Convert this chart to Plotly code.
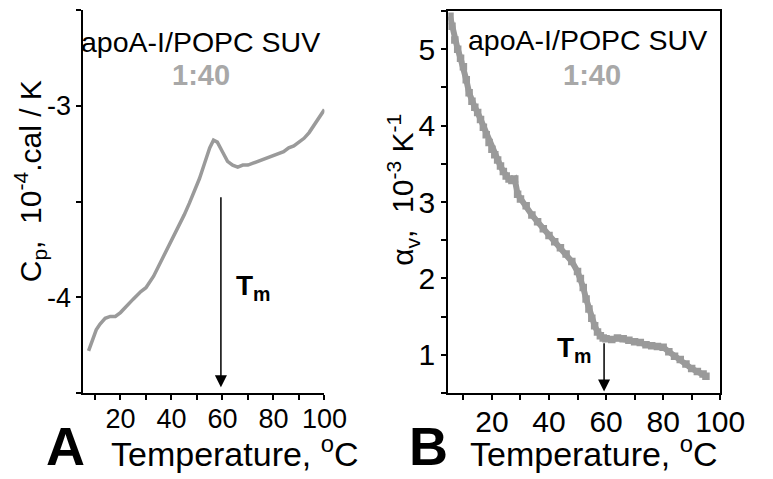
import plotly.graph_objects as go

# Panel A: heat capacity (DSC)
temp_a = [7.5, 9, 10.5, 12, 14, 16, 18, 20, 22, 25, 28, 30, 33, 36, 40, 43, 45, 47, 49, 51,
          53, 55, 56.5, 58, 60, 62, 64, 66, 68, 70, 72, 74, 76, 78, 80, 82, 84, 86, 88, 90,
          92, 94, 96, 98, 100]
cp_a = [-4.28, -4.22, -4.17, -4.14, -4.11, -4.10, -4.10, -4.08, -4.05, -4.01, -3.97, -3.95,
        -3.89, -3.81, -3.70, -3.63, -3.57, -3.51, -3.45, -3.38, -3.30, -3.22, -3.18, -3.19,
        -3.24, -3.29, -3.31, -3.32, -3.31, -3.31, -3.30, -3.29, -3.28, -3.27, -3.26, -3.25,
        -3.24, -3.22, -3.21, -3.19, -3.17, -3.14, -3.10, -3.06, -3.02]

# Panel B: thermal expansion coefficient (PPC)
temp_b = [5.3, 6, 7, 8, 9, 10, 11, 12, 13, 14, 15, 16, 17, 18, 19, 20, 21, 22, 23, 24, 25, 26,
          27, 28, 29, 30, 32, 34, 36, 38, 40, 42, 44, 46, 48, 50, 51, 52, 53, 54, 55, 56, 57,
          58, 59, 60, 62, 64, 66, 68, 70, 72, 74, 76, 78, 80, 82, 84, 86, 88, 90, 92, 94, 95]
alpha_b = [5.43, 5.30, 5.12, 5.00, 4.88, 4.77, 4.60, 4.43, 4.32, 4.24, 4.17, 4.08, 3.98, 3.88,
           3.78, 3.69, 3.62, 3.55, 3.47, 3.40, 3.34, 3.30, 3.28, 3.30, 3.10, 3.04, 2.95, 2.83,
           2.74, 2.65, 2.56, 2.48, 2.40, 2.32, 2.22, 2.09, 2.00, 1.88, 1.73, 1.60, 1.48, 1.38,
           1.30, 1.25, 1.22, 1.21, 1.20, 1.22, 1.21, 1.19, 1.17, 1.16, 1.13, 1.12, 1.11, 1.10,
           1.04, 0.98, 0.94, 0.88, 0.82, 0.78, 0.75, 0.72]

xticks = [20, 40, 60, 80, 100]
xtick_labels = ["20", "40", "60", "80", "100"]
yticks_a = [-4, -3]
ytick_labels_a = ["-4", "-3"]
yticks_b = [1, 2, 3, 4, 5]
ytick_labels_b = ["1", "2", "3", "4", "5"]

tm_a = 59.4
tm_b = 59.3

FONT = "Liberation Sans, Arial, sans-serif"
GREY = "#9a9a9a"
W, H = 773, 479
OFF = 8  # page body margin offset

def px_x(p):
    return (p - OFF) / W

def px_y(p):
    return 1 - (p - OFF) / H

fig = go.Figure()
fig.add_trace(go.Scatter(x=temp_a, y=cp_a, mode="lines", line=dict(color=GREY, width=3.5),
                         xaxis="x", yaxis="y", showlegend=False))
fig.add_trace(go.Scatter(x=temp_b, y=alpha_b, mode="lines+markers",
                         line=dict(color=GREY, width=6),
                         marker=dict(symbol="square", size=7.5, color=GREY),
                         xaxis="x2", yaxis="y2", showlegend=False))

def axis_common(size):
    return dict(showgrid=False, zeroline=False, linecolor="black", linewidth=2,
                ticks="outside", ticklen=5, tickwidth=2, tickcolor="black",
                tickfont=dict(family=FONT, size=size, color="black"), showline=True)

def minor(d):
    return dict(ticks="outside", ticklen=5, tickwidth=2, dtick=d, tick0=0, tickcolor="black")

fig.update_layout(
    width=W, height=H, margin=dict(l=0, r=0, t=0, b=0),
    paper_bgcolor="white", plot_bgcolor="white",
    xaxis=dict(domain=[px_x(86), px_x(335)], range=[5.5, 100], anchor="y",
               tickmode="array", tickvals=xticks, ticktext=xtick_labels,
               ticklabelstandoff=-4, minor=minor(10), **axis_common(27)),
    yaxis=dict(domain=[px_y(393), px_y(10)], range=[-4.5, -2.5], anchor="x",
               tickmode="array", tickvals=yticks_a, ticktext=ytick_labels_a,
               minor=minor(0.5), **axis_common(27)),
    xaxis2=dict(domain=[px_x(463), px_x(744)], range=[4.7, 100], anchor="y2", mirror=True,
                tickmode="array", tickvals=xticks, ticktext=xtick_labels,
                ticklabelstandoff=-4, minor=minor(10), **axis_common(30)),
    yaxis2=dict(domain=[px_y(393), px_y(11)], range=[0.5, 5.5], anchor="x2", mirror=True,
                tickmode="array", tickvals=yticks_b, ticktext=ytick_labels_b,
                minor=minor(0.5), **axis_common(30)),
)

ann = []
# Arrows
ann.append(dict(x=tm_a, y=-4.47, ax=tm_a, ay=-3.47, xref="x", yref="y", axref="x", ayref="y",
                showarrow=True, arrowhead=2, arrowsize=1.6, arrowwidth=1.5, arrowcolor="black",
                text=""))
ann.append(dict(x=tm_b, y=0.52, ax=tm_b, ay=1.17, xref="x2", yref="y2", axref="x2", ayref="y2",
                showarrow=True, arrowhead=2, arrowsize=1.6, arrowwidth=1.5, arrowcolor="black",
                text=""))
# Tm labels
ann.append(dict(x=72.3, y=-3.95, xref="x", yref="y", showarrow=False,
                text="<b>T<sub>m</sub></b>", font=dict(family=FONT, size=28, color="black")))
ann.append(dict(x=49, y=1.07, xref="x2", yref="y2", showarrow=False,
                text="<b>T<sub>m</sub></b>", font=dict(family=FONT, size=28, color="black")))
# Inner labels
for cx, y1, cx2, y2 in [(207, 42, 207, 75), (607, 40, 612, 75)]:
    ann.append(dict(x=px_x(cx), y=px_y(y1), xref="paper", yref="paper", showarrow=False,
                    text="apoA-I/POPC SUV", font=dict(family=FONT, size=28.5, color="black"),
                    xanchor="center", yanchor="middle"))
    ann.append(dict(x=px_x(cx2), y=px_y(y2), xref="paper", yref="paper", showarrow=False,
                    text="<b>1:40</b>", font=dict(family=FONT, size=29, color="#a8a8a8"),
                    xanchor="center", yanchor="middle"))
# X titles
ann.append(dict(x=px_x(243), y=px_y(475), xref="paper", yref="paper", showarrow=False,
                text="Temperature, <sup>o</sup>C", font=dict(family=FONT, size=34, color="black"),
                xanchor="center", yanchor="bottom"))
ann.append(dict(x=px_x(614), y=px_y(475), xref="paper", yref="paper", showarrow=False,
                text="Temperature, <sup>o</sup>C", font=dict(family=FONT, size=34, color="black"),
                xanchor="center", yanchor="bottom"))
# Panel letters
ann.append(dict(x=px_x(67), y=px_y(478), xref="paper", yref="paper", showarrow=False,
                text="<b>A</b>", font=dict(family=FONT, size=54, color="black"),
                xanchor="center", yanchor="bottom"))
ann.append(dict(x=px_x(443), y=px_y(478), xref="paper", yref="paper", showarrow=False,
                text="<b>B</b>", font=dict(family=FONT, size=54, color="black"),
                xanchor="center", yanchor="bottom"))
# Y titles
ann.append(dict(x=px_x(31), y=px_y(181), xref="paper", yref="paper", showarrow=False,
                text="C<sub>p</sub>,  10<sup>-4</sup>.cal / K", textangle=-90,
                font=dict(family=FONT, size=30, color="black"),
                xanchor="center", yanchor="middle"))
ann.append(dict(x=px_x(416), y=px_y(190), xref="paper", yref="paper", showarrow=False,
                text="α<sub>v</sub>,  10<sup>-3</sup> K<sup>-1</sup>", textangle=-90,
                font=dict(family=FONT, size=30, color="black"),
                xanchor="center", yanchor="middle"))

fig.update_layout(annotations=ann)
fig.write_html("out.html")
